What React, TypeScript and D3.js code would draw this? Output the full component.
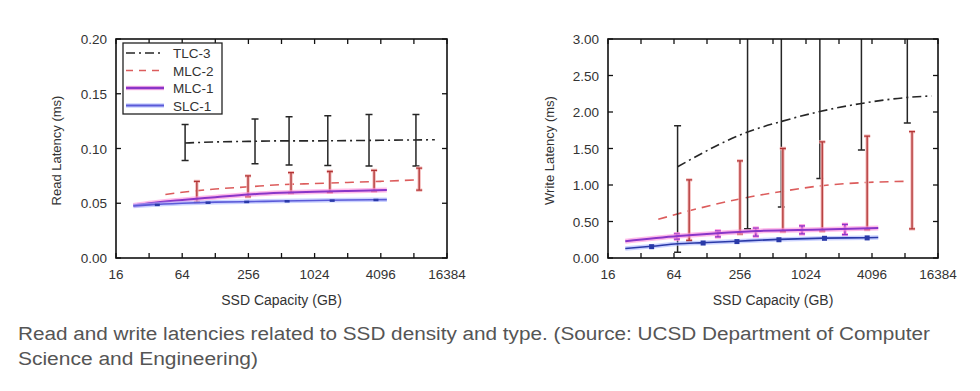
import React from "react";
import * as d3 from "d3";

// ---------- data ----------
const capTicks = [16, 64, 256, 1024, 4096, 16384];
const capMinor = [32, 128, 512, 2048, 8192];

const readTicks = [0, 0.05, 0.1, 0.15, 0.2];
const writeTicks = [0, 0.5, 1.0, 1.5, 2.0, 2.5, 3.0];

const legendNames = ["TLC-3", "MLC-2", "MLC-1", "SLC-1"];

// Read latency
const readTlcCap = [68, 128, 256, 512, 1024, 2048, 4096, 8192, 12700];
const readTlcMean = [0.105, 0.106, 0.1065, 0.107, 0.107, 0.1072, 0.1075, 0.1078, 0.108];
const readTlcErrCap = [68, 294, 600, 1350, 3200, 8550];
const readTlcErrLow = [0.089, 0.086, 0.085, 0.0845, 0.084, 0.084];
const readTlcErrHigh = [0.122, 0.127, 0.129, 0.13, 0.131, 0.131];

const readMlc2Cap = [45, 64, 128, 256, 512, 1024, 2048, 4096, 9300];
const readMlc2Mean = [0.058, 0.06, 0.063, 0.065, 0.067, 0.068, 0.069, 0.07, 0.0715];
const readMlc2ErrCap = [87, 254, 625, 1410, 3560, 9150];
const readMlc2ErrLow = [0.051, 0.056, 0.0595, 0.06, 0.061, 0.062];
const readMlc2ErrHigh = [0.07, 0.075, 0.078, 0.079, 0.08, 0.082];

const readMlc1Cap = [23, 32, 64, 128, 256, 512, 1024, 2048, 4650];
const readMlc1Mean = [0.048, 0.05, 0.053, 0.0555, 0.058, 0.0595, 0.0605, 0.0612, 0.062];

const readSlc1Cap = [23, 32, 64, 128, 256, 512, 1024, 2048, 4650];
const readSlc1Mean = [0.0475, 0.0485, 0.05, 0.051, 0.0515, 0.052, 0.0525, 0.053, 0.0533];
const readSlc1MarkCap = [38, 110, 247, 576, 1480, 3700];
const readSlc1MarkVal = [0.0485, 0.0505, 0.0512, 0.0518, 0.0524, 0.053];

// Write latency
const writeTlcCap = [69, 305, 626, 1400, 3280, 8740, 14300];
const writeTlcMean = [1.25, 1.73, 1.875, 2.01, 2.117, 2.2, 2.22];
const writeTlcErrCap = [69, 300, 610, 1370, 3280, 8600];
const writeTlcErrLow = [0.08, 0.4, 0.7, 1.09, 1.48, 1.85];
const writeTlcErrHigh = [1.81, 3.5, 3.6, 3.7, 3.8, 3.9];

const writeMlc2Cap = [46, 90, 256, 635, 1420, 3640, 8740];
const writeMlc2Mean = [0.53, 0.65, 0.81, 0.915, 0.99, 1.035, 1.05];
const writeMlc2ErrCap = [88, 256, 630, 1440, 3700, 9500];
const writeMlc2ErrLow = [0.24, 0.33, 0.36, 0.37, 0.39, 0.4];
const writeMlc2ErrHigh = [1.07, 1.33, 1.5, 1.59, 1.67, 1.73];

const writeMlc1Cap = [23, 70, 160, 363, 1450, 4670];
const writeMlc1Mean = [0.23, 0.3, 0.34, 0.37, 0.39, 0.41];
const writeMlc1ErrCap = [68, 161, 357, 942, 2320];
const writeMlc1ErrLow = [0.26, 0.29, 0.3, 0.33, 0.32];
const writeMlc1ErrHigh = [0.33, 0.37, 0.41, 0.44, 0.46];

const writeSlc1Cap = [23, 40, 69, 118, 240, 580, 1510, 3700, 4670];
const writeSlc1Mean = [0.13, 0.16, 0.195, 0.21, 0.23, 0.255, 0.272, 0.278, 0.28];
const writeSlc1MarkCap = [40, 118, 240, 580, 1510, 3700];
const writeSlc1MarkVal = [0.155, 0.205, 0.225, 0.25, 0.27, 0.275];

const captionLines = [
  "Read and write latencies related to SSD density and type. (Source: UCSD Department of Computer",
  "Science and Engineering)",
];

// ---------- styles ----------
const C = {
  tlc: "#262626",
  mlc2: "#dc5c5c",
  mlc2Err: "#b03434",
  mlc2Halo: "#f4b8b8",
  mlc1: "#8a35c8",
  mlc1Halo: "#ff8fdc",
  slc1: "#5a5ad8",
  slc1Dark: "#2a3aa8",
  slc1Halo: "#a8b4ff",
  text: "#333",
};

type Pt = [number, number];
const zip = (a: number[], b: number[]): Pt[] => a.map((v, i) => [v, b[i]]);

interface ErrSet {
  cap: number[];
  low: number[];
  high: number[];
  color: string;
  halo?: string;
  width: number;
  capW: number;
}

interface ChartProps {
  id: string;
  x0: number;
  x1: number;
  y0: number;
  y1: number;
  yMax: number;
  yTicks: number[];
  yTitle: string;
  yTitleX: number;
  tlc: Pt[];
  mlc2: Pt[];
  mlc1: Pt[];
  slc1: Pt[];
  slcDark: boolean;
  errs: ErrSet[];
  marks: Pt[];
  markSize: [number, number];
  legend: boolean;
}

function Chart(p: ChartProps) {
  const x = d3.scaleLog().base(2).domain([16, 16384]).range([p.x0, p.x1]);
  const y = d3.scaleLinear().domain([0, p.yMax]).range([p.y1, p.y0]);
  const line = d3
    .line<Pt>()
    .x((d) => x(d[0]))
    .y((d) => y(d[1]))
    .curve(d3.curveMonotoneX);
  const font = "'Liberation Sans', Arial, sans-serif";
  const allTicks = [...capTicks, ...capMinor];
  const tl = 5;
  return (
    <g>
      <defs>
        <clipPath id={p.id}>
          <rect x={p.x0} y={p.y0} width={p.x1 - p.x0} height={p.y1 - p.y0} />
        </clipPath>
      </defs>
      <g clipPath={`url(#${p.id})`}>
        <path d={line(p.tlc) || ""} fill="none" stroke={C.tlc} strokeWidth={1.6}
          strokeDasharray="9,4,2,4" />
        <path d={line(p.mlc2) || ""} fill="none" stroke={C.mlc2} strokeWidth={1.6}
          strokeDasharray="9,6" />
        {p.errs.map((e, k) => (
          <g key={k}>
            {e.cap.map((c, i) => {
              const cx = x(c);
              const ya = y(e.low[i]);
              const yb = y(e.high[i]);
              const d = `M${cx},${ya}V${yb}M${cx - e.capW},${ya}H${cx + e.capW}M${cx - e.capW},${yb}H${cx + e.capW}`;
              return (
                <g key={i}>
                  {e.halo && <path d={d} stroke={e.halo} strokeWidth={e.width + 2} fill="none" />}
                  <path d={d} stroke={e.color} strokeWidth={e.width} fill="none" />
                </g>
              );
            })}
          </g>
        ))}
        <path d={line(p.mlc1) || ""} fill="none" stroke={C.mlc1Halo} strokeWidth={5} opacity={0.6} />
        <path d={line(p.mlc1) || ""} fill="none" stroke={C.mlc1} strokeWidth={2} />
        <path d={line(p.slc1) || ""} fill="none" stroke={C.slc1Halo} strokeWidth={4.5} opacity={0.6} />
        <path d={line(p.slc1) || ""} fill="none" stroke={p.slcDark ? C.slc1Dark : C.slc1} strokeWidth={1.6} />
        {p.marks.map((m, i) => (
          <rect key={i} x={x(m[0]) - p.markSize[0] / 2} y={y(m[1]) - p.markSize[1] / 2}
            width={p.markSize[0]} height={p.markSize[1]} fill={C.slc1Dark} />
        ))}
      </g>
      <rect x={p.x0} y={p.y0} width={p.x1 - p.x0} height={p.y1 - p.y0} fill="none" stroke="#111" strokeWidth={1.6} />
      {allTicks.map((t) => (
        <g key={t}>
          <line x1={x(t)} x2={x(t)} y1={p.y1} y2={p.y1 - tl} stroke="#111" strokeWidth={1.3} />
          <line x1={x(t)} x2={x(t)} y1={p.y0} y2={p.y0 + tl} stroke="#111" strokeWidth={1.3} />
        </g>
      ))}
      {capTicks.map((t) => (
        <text key={t} x={x(t)} y={p.y1 + 21} textAnchor="middle" fontSize={13.5}
          fontFamily={font} fill={C.text}>
          {t}
        </text>
      ))}
      {p.yTicks.map((t) => (
        <g key={t}>
          <line x1={p.x0} x2={p.x0 + tl} y1={y(t)} y2={y(t)} stroke="#111" strokeWidth={1.3} />
          <line x1={p.x1} x2={p.x1 - tl} y1={y(t)} y2={y(t)} stroke="#111" strokeWidth={1.3} />
          <text x={p.x0 - 9} y={y(t) + 5} textAnchor="end" fontSize={13.5} fontFamily={font} fill={C.text}>
            {t.toFixed(2)}
          </text>
        </g>
      ))}
      <text x={(p.x0 + p.x1) / 2} y={p.y1 + 47} textAnchor="middle" fontSize={14}
        fontFamily={font} fill={C.text}>
        SSD Capacity (GB)
      </text>
      <text transform={`translate(${p.yTitleX},${(p.y0 + p.y1) / 2 + 2}) rotate(-90)`} textAnchor="middle"
        fontSize={13} fontFamily={font} fill={C.text}>
        {p.yTitle}
      </text>
      {p.legend && (
        <g>
          <rect x={123} y={43} width={99} height={71} fill="#fff" stroke="#222" strokeWidth={1.3} />
          {legendNames.map((n, i) => {
            const ly = 53 + i * 17.5;
            const styles = [
              { s: C.tlc, w: 1.5, d: "9,4,2,4", h: null as string | null },
              { s: C.mlc2, w: 1.6, d: "7,6", h: null },
              { s: C.mlc1, w: 2.4, d: "", h: C.mlc1Halo },
              { s: C.slc1, w: 1.8, d: "", h: C.slc1Halo },
            ][i];
            return (
              <g key={n}>
                {styles.h && <line x1={126} x2={164} y1={ly} y2={ly} stroke={styles.h} strokeWidth={4.5} opacity={0.6} />}
                <line x1={126} x2={164} y1={ly} y2={ly} stroke={styles.s} strokeWidth={styles.w}
                  strokeDasharray={styles.d || undefined} />
                <text x={173} y={ly + 5} fontSize={13.5} fontFamily={font} fill={C.text}>
                  {n}
                </text>
              </g>
            );
          })}
        </g>
      )}
    </g>
  );
}

export default function App() {
  const font = "'Liberation Sans', Arial, sans-serif";
  return (
    <svg width={980} height={391} style={{ position: "absolute", left: 0, top: 0, background: "#fff" }}>
      <rect width={980} height={391} fill="#fff" />
      <Chart
        id="clipL" x0={116} x1={447} y0={39} y1={258} yMax={0.2} yTicks={readTicks}
        yTitle="Read Latency (ms)" yTitleX={61}
        tlc={zip(readTlcCap, readTlcMean)}
        mlc2={zip(readMlc2Cap, readMlc2Mean)}
        mlc1={zip(readMlc1Cap, readMlc1Mean)}
        slc1={zip(readSlc1Cap, readSlc1Mean)}
        slcDark={false}
        errs={[
          { cap: readTlcErrCap, low: readTlcErrLow, high: readTlcErrHigh, color: C.tlc, width: 1.5, capW: 3.5 },
          { cap: readMlc2ErrCap, low: readMlc2ErrLow, high: readMlc2ErrHigh, color: C.mlc2Err, halo: C.mlc2Halo, width: 1.3, capW: 3 },
        ]}
        marks={zip(readSlc1MarkCap, readSlc1MarkVal)}
        markSize={[5, 2.5]}
        legend={true}
      />
      <Chart
        id="clipR" x0={608} x1={938} y0={39} y1={258} yMax={3} yTicks={writeTicks}
        yTitle="Write Latency (ms)" yTitleX={554}
        tlc={zip(writeTlcCap, writeTlcMean)}
        mlc2={zip(writeMlc2Cap, writeMlc2Mean)}
        mlc1={zip(writeMlc1Cap, writeMlc1Mean)}
        slc1={zip(writeSlc1Cap, writeSlc1Mean)}
        slcDark={true}
        errs={[
          { cap: writeTlcErrCap, low: writeTlcErrLow, high: writeTlcErrHigh, color: C.tlc, width: 1.5, capW: 3.5 },
          { cap: writeMlc2ErrCap, low: writeMlc2ErrLow, high: writeMlc2ErrHigh, color: C.mlc2Err, halo: C.mlc2Halo, width: 1.3, capW: 3 },
          { cap: writeMlc1ErrCap, low: writeMlc1ErrLow, high: writeMlc1ErrHigh, color: C.mlc1, halo: C.mlc1Halo, width: 1.3, capW: 3 },
        ]}
        marks={zip(writeSlc1MarkCap, writeSlc1MarkVal)}
        markSize={[5, 5]}
        legend={false}
      />
      <text x={18} y={340} fontSize={18} fontFamily={font} fill="#555" textLength={912} lengthAdjust="spacingAndGlyphs">
        {captionLines[0]}
      </text>
      <text x={18} y={365} fontSize={18} fontFamily={font} fill="#555" textLength={240} lengthAdjust="spacingAndGlyphs">
        {captionLines[1]}
      </text>
    </svg>
  );
}
